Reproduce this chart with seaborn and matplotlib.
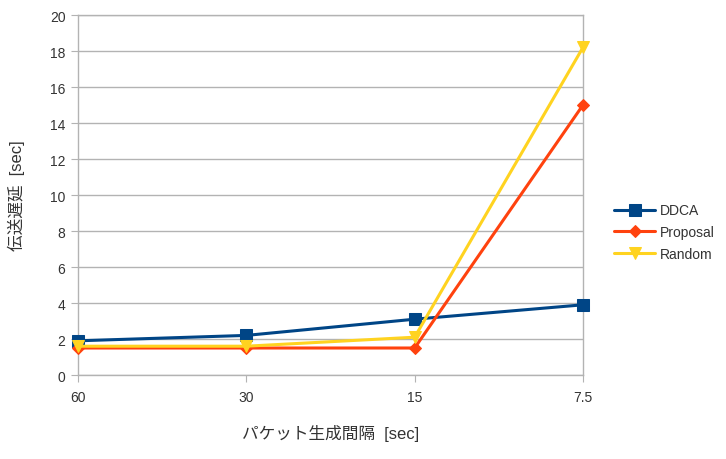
import numpy as np
import pandas as pd
import matplotlib
matplotlib.use("Agg")
import matplotlib.pyplot as plt
import seaborn as sns

intervals = ["60", "30", "15", "7.5"]
ddca = [1.9, 2.2, 3.1, 3.9]
proposal = [1.5, 1.5, 1.5, 15.0]
random_ = [1.6, 1.6, 2.1, 18.2]

series = {"DDCA": ddca, "Proposal": proposal, "Random": random_}
colors = {"DDCA": "#004586", "Proposal": "#ff420e", "Random": "#ffd320"}
markers = {"DDCA": "s", "Proposal": "D", "Random": "v"}
msizes = {"DDCA": 8, "Proposal": 6, "Random": 9}

sns.set_style("white")
plt.rcParams["font.family"] = ["Liberation Sans", "Noto Sans CJK JP", "DejaVu Sans"]

fig = plt.figure(figsize=(7.26, 4.60), dpi=100)
ax = fig.add_axes([0.1074, 0.1826, 0.6956, 0.7826])

pos = np.arange(len(intervals))
for name, vals in series.items():
    df = pd.DataFrame({"x": pos, "y": vals})
    sns.lineplot(data=df, x="x", y="y", ax=ax, color=colors[name], linewidth=2.2,
                 marker=markers[name], markersize=msizes[name],
                 markeredgecolor=colors[name], label=name, clip_on=False, zorder=3)

ax.set_xlim(0, len(intervals) - 1)
ax.set_ylim(0, 20)
ax.set_yticks(range(0, 21, 2))
ax.set_xticks(pos)
ax.set_xticklabels(intervals)
ax.yaxis.grid(True, color="#b3b3b3", linewidth=1)
ax.xaxis.grid(False)
ax.set_axisbelow(True)
for s in ax.spines.values():
    s.set_color("#b3b3b3")
    s.set_linewidth(1)
ax.tick_params(axis="both", direction="out", length=5, color="#b3b3b3",
               labelsize=10, labelcolor="#333333", left=True, bottom=True)
ax.tick_params(axis="y", pad=4)
ax.tick_params(axis="x", pad=6)

ax.set_xlabel("パケット生成間隔  [sec]", fontsize=12, color="#333333", labelpad=14)
ax.set_ylabel("伝送遅延  [sec]", fontsize=12, color="#333333", labelpad=18)

leg = ax.legend(loc="center left", bbox_to_anchor=(1.05, 0.397), frameon=False,
                fontsize=10, handlelength=3.0, handletextpad=0.3,
                labelspacing=0.55, borderaxespad=0)
for t in leg.get_texts():
    t.set_color("#333333")

fig.savefig("out.png", dpi=100)
